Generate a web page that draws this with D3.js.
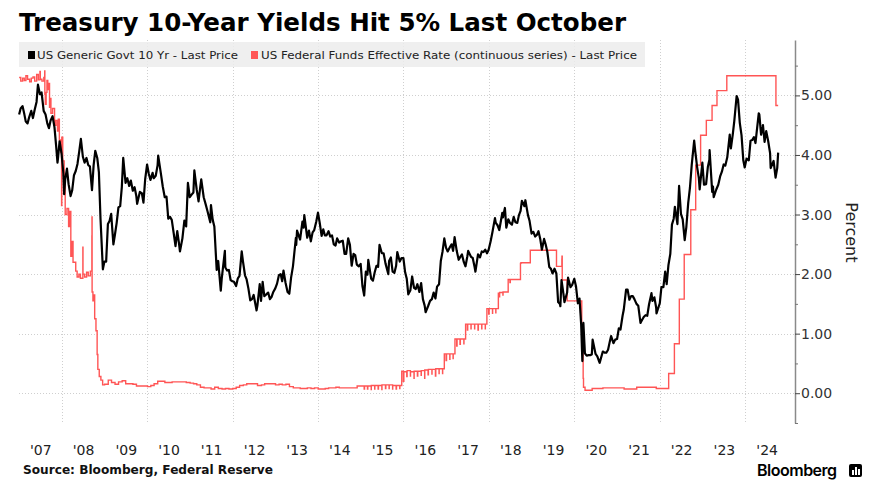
<!DOCTYPE html>
<html>
<head>
<meta charset="utf-8">
<script src="https://cdn.jsdelivr.net/npm/d3@7"></script>
<style>
  body { margin: 0; background: #fff; }
  svg { display: block; }
</style>
</head>
<body>
<div id="chart"></div>
<script>
// chart text
const title = "Treasury 10-Year Yields Hit 5% Last October";
const legendLabels = ["US Generic Govt 10 Yr - Last Price", "US Federal Funds Effective Rate (continuous series) - Last Price"];
const seriesColors = ["#000000", "#ff5555"];
const yearLabels = ["'07","'08","'09","'10","'11","'12","'13","'14","'15","'16","'17","'18","'19","'20","'21","'22","'23","'24"];
const gridYears = [2008, 2010, 2012, 2014, 2016, 2018, 2020, 2022, 2024];
const yTicks = [0, 1, 2, 3, 4, 5];
const yMinorTicks = [-0.5, 0.5, 1.5, 2.5, 3.5, 4.5, 5.5];

// US Generic Govt 10 Yr
const tenYear = [
  ["2007-01-02",4.68],["2007-01-15",4.78],["2007-01-31",4.82],["2007-02-15",4.69],["2007-02-28",4.56],
  ["2007-03-15",4.53],["2007-03-30",4.64],["2007-04-16",4.74],["2007-04-30",4.62],["2007-05-15",4.76],
  ["2007-05-31",4.89],["2007-06-12",5.18],["2007-06-29",5.02],["2007-07-13",5.05],["2007-07-31",4.74],
  ["2007-08-16",4.68],["2007-08-31",4.53],["2007-09-14",4.45],["2007-09-28",4.58],["2007-10-15",4.65],
  ["2007-10-31",4.47],["2007-11-15",4.14],["2007-11-26",3.87],["2007-11-30",3.94],["2007-12-14",4.23],
  ["2007-12-31",4.02],
  ["2008-01-15",3.70],["2008-01-22",3.34],["2008-01-31",3.59],["2008-02-15",3.77],["2008-02-29",3.51],
  ["2008-03-17",3.31],["2008-03-31",3.41],["2008-04-15",3.66],["2008-04-30",3.73],["2008-05-15",3.85],
  ["2008-05-30",4.06],["2008-06-13",4.27],["2008-06-30",3.97],["2008-07-15",3.87],["2008-07-31",3.95],
  ["2008-08-15",3.83],["2008-08-29",3.81],["2008-09-16",3.41],["2008-09-30",3.83],["2008-10-14",4.07],
  ["2008-10-31",3.95],["2008-11-14",3.71],["2008-11-28",2.92],["2008-12-18",2.08],["2008-12-31",2.21],
  ["2009-01-15",2.21],["2009-01-30",2.84],["2009-02-13",2.89],["2009-02-27",3.01],["2009-03-18",2.50],
  ["2009-03-31",2.66],["2009-04-15",2.86],["2009-04-30",3.12],["2009-05-15",3.14],["2009-05-29",3.46],
  ["2009-06-10",3.95],["2009-06-30",3.53],["2009-07-15",3.61],["2009-07-31",3.48],["2009-08-14",3.57],
  ["2009-08-31",3.40],["2009-09-15",3.46],["2009-09-30",3.31],["2009-10-07",3.18],["2009-10-30",3.38],
  ["2009-11-16",3.36],["2009-11-30",3.20],["2009-12-15",3.60],["2009-12-31",3.84],
  ["2010-01-15",3.68],["2010-01-29",3.58],["2010-02-16",3.70],["2010-02-26",3.61],["2010-03-15",3.65],
  ["2010-03-31",3.83],["2010-04-05",3.99],["2010-04-30",3.66],["2010-05-14",3.47],["2010-05-31",3.29],
  ["2010-06-15",3.30],["2010-06-30",2.93],["2010-07-15",2.96],["2010-07-30",2.91],["2010-08-16",2.68],
  ["2010-08-31",2.47],["2010-09-15",2.72],["2010-09-30",2.51],["2010-10-08",2.38],["2010-10-29",2.60],
  ["2010-11-15",2.90],["2010-11-30",2.80],["2010-12-15",3.53],["2010-12-31",3.29],
  ["2011-01-14",3.33],["2011-01-31",3.37],["2011-02-08",3.74],["2011-02-28",3.42],["2011-03-16",3.22],
  ["2011-03-31",3.47],["2011-04-08",3.59],["2011-04-29",3.29],["2011-05-16",3.17],["2011-05-31",3.06],
  ["2011-06-24",2.87],["2011-06-30",3.16],["2011-07-15",2.91],["2011-07-29",2.80],["2011-08-18",2.07],
  ["2011-08-31",2.22],["2011-09-22",1.72],["2011-09-30",1.92],["2011-10-27",2.39],["2011-10-31",2.11],
  ["2011-11-15",2.06],["2011-11-30",2.07],["2011-12-15",1.90],["2011-12-30",1.88],
  ["2012-01-13",1.87],["2012-01-31",1.80],["2012-02-15",1.93],["2012-02-29",1.97],["2012-03-19",2.38],
  ["2012-03-30",2.21],["2012-04-16",1.98],["2012-04-30",1.91],["2012-05-15",1.76],["2012-05-31",1.56],
  ["2012-06-15",1.58],["2012-06-29",1.65],["2012-07-24",1.39],["2012-07-31",1.47],["2012-08-20",1.83],
  ["2012-08-31",1.55],["2012-09-14",1.87],["2012-09-28",1.63],["2012-10-15",1.66],["2012-10-31",1.69],
  ["2012-11-15",1.58],["2012-11-30",1.62],["2012-12-14",1.70],["2012-12-31",1.76],
  ["2013-01-15",1.84],["2013-01-31",1.98],["2013-02-15",2.00],["2013-02-28",1.88],["2013-03-11",2.06],
  ["2013-03-29",1.85],["2013-04-15",1.70],["2013-04-30",1.67],["2013-05-15",1.94],["2013-05-31",2.13],
  ["2013-06-25",2.61],["2013-06-28",2.49],["2013-07-05",2.73],["2013-07-31",2.58],["2013-08-20",2.88],
  ["2013-08-30",2.78],["2013-09-05",2.99],["2013-09-30",2.61],["2013-10-15",2.73],["2013-10-31",2.55],
  ["2013-11-15",2.70],["2013-11-29",2.74],["2013-12-16",2.88],["2013-12-31",3.03],
  ["2014-01-15",2.86],["2014-01-31",2.64],["2014-02-14",2.75],["2014-02-28",2.65],["2014-03-14",2.65],
  ["2014-03-31",2.72],["2014-04-15",2.63],["2014-04-30",2.65],["2014-05-15",2.50],["2014-05-30",2.48],
  ["2014-06-13",2.60],["2014-06-30",2.53],["2014-07-15",2.55],["2014-07-31",2.56],["2014-08-15",2.34],
  ["2014-08-29",2.34],["2014-09-15",2.60],["2014-09-30",2.49],["2014-10-15",2.14],["2014-10-31",2.34],
  ["2014-11-14",2.32],["2014-11-28",2.16],["2014-12-15",2.13],["2014-12-31",2.17],
  ["2015-01-15",1.80],["2015-01-30",1.64],["2015-02-13",2.04],["2015-02-27",1.99],["2015-03-06",2.24],
  ["2015-03-31",1.92],["2015-04-15",1.89],["2015-04-30",2.03],["2015-05-15",2.14],["2015-05-29",2.12],
  ["2015-06-10",2.49],["2015-06-30",2.35],["2015-07-15",2.35],["2015-07-31",2.18],["2015-08-24",2.00],
  ["2015-08-31",2.22],["2015-09-15",2.28],["2015-09-30",2.04],["2015-10-15",2.02],["2015-10-30",2.14],
  ["2015-11-09",2.37],["2015-11-30",2.21],["2015-12-15",2.27],["2015-12-31",2.27],
  ["2016-01-15",2.03],["2016-01-29",1.92],["2016-02-11",1.66],["2016-02-29",1.73],["2016-03-15",1.96],
  ["2016-03-31",1.77],["2016-04-15",1.75],["2016-04-29",1.83],["2016-05-16",1.70],["2016-05-31",1.85],
  ["2016-06-15",1.58],["2016-06-30",1.47],["2016-07-08",1.36],["2016-07-29",1.46],["2016-08-15",1.55],
  ["2016-08-31",1.58],["2016-09-15",1.69],["2016-09-30",1.59],["2016-10-14",1.79],["2016-10-31",1.83],
  ["2016-11-15",2.22],["2016-11-30",2.38],["2016-12-15",2.60],["2016-12-30",2.44],
  ["2017-01-13",2.38],["2017-01-31",2.45],["2017-02-15",2.50],["2017-02-28",2.39],["2017-03-13",2.62],
  ["2017-03-31",2.39],["2017-04-17",2.24],["2017-04-28",2.28],["2017-05-15",2.33],["2017-05-31",2.20],
  ["2017-06-14",2.13],["2017-06-30",2.30],["2017-07-07",2.39],["2017-07-31",2.29],["2017-08-15",2.27],
  ["2017-08-31",2.12],["2017-09-07",2.04],["2017-09-29",2.33],["2017-10-16",2.28],["2017-10-31",2.38],
  ["2017-11-15",2.37],["2017-11-30",2.41],["2017-12-15",2.35],["2017-12-29",2.41],
  ["2018-01-15",2.55],["2018-01-31",2.71],["2018-02-21",2.94],["2018-02-28",2.86],["2018-03-15",2.82],
  ["2018-03-30",2.74],["2018-04-25",3.03],["2018-04-30",2.95],["2018-05-17",3.11],["2018-05-29",2.78],
  ["2018-06-15",2.92],["2018-06-29",2.86],["2018-07-16",2.83],["2018-07-31",2.96],["2018-08-15",2.87],
  ["2018-08-31",2.86],["2018-09-14",2.99],["2018-09-28",3.06],["2018-10-09",3.23],["2018-10-31",3.14],
  ["2018-11-08",3.24],["2018-11-30",2.99],["2018-12-14",2.89],["2018-12-31",2.68],
  ["2019-01-15",2.71],["2019-01-31",2.63],["2019-02-15",2.66],["2019-02-28",2.72],["2019-03-15",2.59],
  ["2019-03-29",2.41],["2019-04-17",2.59],["2019-04-30",2.50],["2019-05-15",2.37],["2019-05-31",2.12],
  ["2019-06-14",2.09],["2019-06-28",2.01],["2019-07-15",2.09],["2019-07-31",2.01],["2019-08-15",1.53],
  ["2019-08-30",1.50],["2019-09-03",1.46],["2019-09-13",1.90],["2019-09-30",1.66],["2019-10-08",1.53],
  ["2019-10-31",1.69],["2019-11-08",1.94],["2019-11-29",1.78],["2019-12-13",1.82],["2019-12-31",1.92],
  ["2020-01-15",1.79],["2020-01-31",1.51],["2020-02-14",1.59],["2020-02-28",1.15],["2020-03-09",0.54],
  ["2020-03-18",1.18],["2020-03-31",0.67],["2020-04-15",0.63],["2020-04-30",0.64],["2020-05-15",0.64],
  ["2020-05-29",0.65],["2020-06-05",0.90],["2020-06-30",0.66],["2020-07-15",0.62],["2020-07-31",0.53],
  ["2020-08-04",0.51],["2020-08-31",0.70],["2020-09-15",0.68],["2020-09-30",0.68],["2020-10-15",0.73],
  ["2020-10-30",0.87],["2020-11-10",0.96],["2020-11-30",0.84],["2020-12-15",0.90],["2020-12-31",0.91],
  ["2021-01-15",1.09],["2021-01-29",1.07],["2021-02-16",1.30],["2021-02-26",1.40],["2021-03-18",1.74],
  ["2021-03-31",1.74],["2021-04-15",1.57],["2021-04-30",1.63],["2021-05-14",1.63],["2021-05-28",1.58],
  ["2021-06-15",1.50],["2021-06-30",1.47],["2021-07-19",1.18],["2021-07-30",1.22],["2021-08-16",1.28],
  ["2021-08-31",1.31],["2021-09-15",1.30],["2021-09-30",1.49],["2021-10-21",1.68],["2021-10-29",1.55],
  ["2021-11-15",1.61],["2021-11-30",1.44],["2021-12-03",1.34],["2021-12-31",1.51],
  ["2022-01-14",1.78],["2022-01-31",1.78],["2022-02-15",2.04],["2022-02-28",1.83],["2022-03-15",2.15],
  ["2022-03-31",2.34],["2022-04-14",2.83],["2022-04-29",2.93],["2022-05-09",3.13],["2022-05-31",2.84],
  ["2022-06-14",3.48],["2022-06-30",3.01],["2022-07-15",2.92],["2022-08-01",2.57],["2022-08-15",2.79],
  ["2022-08-31",3.19],["2022-09-15",3.45],["2022-09-30",3.83],["2022-10-21",4.24],["2022-10-31",4.05],
  ["2022-11-15",3.80],["2022-11-30",3.61],["2022-12-07",3.42],["2022-12-30",3.87],
  ["2023-01-13",3.50],["2023-01-31",3.51],["2023-02-15",3.80],["2023-02-28",3.92],["2023-03-02",4.08],
  ["2023-03-24",3.38],["2023-03-31",3.47],["2023-04-06",3.29],["2023-04-28",3.42],["2023-05-15",3.50],
  ["2023-05-31",3.64],["2023-06-15",3.72],["2023-06-30",3.84],["2023-07-14",3.82],["2023-07-31",3.96],
  ["2023-08-21",4.34],["2023-08-31",4.11],["2023-09-15",4.33],["2023-09-29",4.57],["2023-10-19",4.99],
  ["2023-10-31",4.93],["2023-11-15",4.54],["2023-11-30",4.33],["2023-12-15",3.91],["2023-12-27",3.79],
  ["2024-01-12",3.94],["2024-01-31",3.91],["2024-02-15",4.24],["2024-02-29",4.25],["2024-03-15",4.30],
  ["2024-03-28",4.20],["2024-04-25",4.70],["2024-04-30",4.68],["2024-05-15",4.34],["2024-05-31",4.50],
  ["2024-06-14",4.22],["2024-06-28",4.40],["2024-07-15",4.23],["2024-07-31",4.03],["2024-08-05",3.78],
  ["2024-08-30",3.90],["2024-09-16",3.62],["2024-09-30",3.78],["2024-10-08",4.04]
];

// US Federal Funds Effective Rate, value holds until the next date
const fedFunds = [
  ["2007-01-02",5.30],["2007-01-16",5.24],["2007-02-01",5.29],["2007-02-15",5.25],["2007-03-01",5.33],
  ["2007-03-15",5.27],["2007-04-02",5.23],["2007-04-16",5.29],["2007-05-01",5.31],["2007-05-15",5.24],
  ["2007-06-01",5.35],["2007-06-15",5.26],["2007-06-29",5.40],["2007-07-02",5.27],["2007-07-16",5.24],
  ["2007-08-01",5.30],["2007-08-09",5.41],["2007-08-10",5.02],["2007-08-14",4.85],["2007-08-21",5.05],
  ["2007-08-28",5.25],["2007-09-04",5.10],["2007-09-10",5.20],["2007-09-19",4.80],["2007-09-28",4.95],
  ["2007-10-01",4.70],["2007-10-15",4.78],["2007-11-01",4.50],["2007-11-13",4.58],["2007-11-26",4.40],
  ["2007-12-03",4.60],["2007-12-12",4.25],["2007-12-24",4.05],["2007-12-31",3.15],
  ["2008-01-02",4.30],["2008-01-10",3.90],["2008-01-22",3.55],["2008-01-31",3.00],["2008-02-15",3.10],
  ["2008-02-29",2.80],["2008-03-10",3.05],["2008-03-19",2.30],["2008-03-31",2.55],["2008-04-07",2.20],
  ["2008-04-30",2.05],["2008-05-12",1.95],["2008-05-27",2.00],["2008-06-09",1.93],["2008-06-30",2.45],
  ["2008-07-01",2.00],["2008-07-15",1.95],["2008-08-01",2.03],["2008-08-15",1.97],["2008-09-02",2.05],
  ["2008-09-15",2.64],["2008-09-16",2.96],["2008-09-17",1.70],["2008-09-24",1.55],["2008-10-01",1.65],
  ["2008-10-09",1.25],["2008-10-20",1.05],["2008-10-30",0.65],["2008-11-05",0.40],["2008-11-17",0.28],
  ["2008-12-01",0.22],["2008-12-16",0.14],
  ["2009-01-02",0.15],["2009-02-02",0.22],["2009-03-02",0.18],["2009-04-01",0.15],["2009-05-01",0.19],
  ["2009-06-01",0.21],["2009-07-01",0.16],["2009-08-03",0.16],["2009-09-01",0.15],["2009-10-01",0.12],
  ["2009-11-02",0.12],["2009-12-01",0.12],
  ["2010-01-04",0.11],["2010-02-01",0.13],["2010-03-01",0.16],["2010-04-01",0.20],["2010-05-03",0.20],
  ["2010-06-01",0.18],["2010-07-01",0.18],["2010-08-02",0.19],["2010-09-01",0.19],["2010-10-01",0.19],
  ["2010-11-01",0.19],["2010-12-01",0.18],
  ["2011-01-03",0.17],["2011-02-01",0.16],["2011-03-01",0.14],["2011-04-01",0.10],["2011-05-02",0.09],
  ["2011-06-01",0.09],["2011-07-01",0.07],["2011-08-01",0.10],["2011-09-01",0.08],["2011-10-03",0.07],
  ["2011-11-01",0.08],["2011-12-01",0.07],
  ["2012-01-03",0.08],["2012-02-01",0.10],["2012-03-01",0.13],["2012-04-02",0.14],["2012-05-01",0.16],
  ["2012-06-01",0.16],["2012-07-02",0.16],["2012-08-01",0.13],["2012-09-04",0.14],["2012-10-01",0.16],
  ["2012-11-01",0.16],["2012-12-03",0.16],
  ["2013-01-02",0.14],["2013-02-01",0.15],["2013-03-01",0.14],["2013-04-01",0.15],["2013-05-01",0.11],
  ["2013-06-03",0.09],["2013-07-01",0.09],["2013-08-01",0.08],["2013-09-03",0.08],["2013-10-01",0.09],
  ["2013-11-01",0.08],["2013-12-02",0.09],
  ["2014-01-02",0.07],["2014-02-03",0.07],["2014-03-03",0.08],["2014-04-01",0.09],["2014-05-01",0.09],
  ["2014-06-02",0.10],["2014-07-01",0.09],["2014-08-01",0.09],["2014-09-02",0.09],["2014-10-01",0.09],
  ["2014-11-03",0.09],["2014-12-01",0.12],
  ["2015-01-02",0.12],["2015-01-30",0.07],["2015-02-02",0.12],["2015-02-27",0.07],["2015-03-02",0.12],
  ["2015-03-31",0.06],["2015-04-01",0.13],["2015-04-30",0.07],["2015-05-01",0.13],["2015-05-29",0.07],
  ["2015-06-01",0.13],["2015-06-30",0.06],["2015-07-01",0.14],["2015-07-31",0.08],["2015-08-03",0.14],
  ["2015-08-31",0.08],["2015-09-01",0.14],["2015-09-30",0.07],["2015-10-01",0.13],["2015-10-30",0.07],
  ["2015-11-02",0.13],["2015-11-30",0.08],["2015-12-01",0.13],["2015-12-17",0.37],["2015-12-31",0.20],
  ["2016-01-04",0.36],["2016-01-29",0.28],["2016-02-01",0.38],["2016-02-29",0.29],["2016-03-01",0.36],
  ["2016-03-31",0.25],["2016-04-01",0.37],["2016-04-29",0.29],["2016-05-02",0.37],["2016-05-31",0.30],
  ["2016-06-01",0.38],["2016-06-30",0.25],["2016-07-01",0.39],["2016-07-29",0.31],["2016-08-01",0.40],
  ["2016-08-31",0.32],["2016-09-01",0.40],["2016-09-30",0.29],["2016-10-03",0.41],["2016-10-31",0.33],
  ["2016-11-01",0.41],["2016-11-30",0.33],["2016-12-01",0.41],["2016-12-15",0.66],["2016-12-30",0.55],
  ["2017-01-03",0.66],["2017-01-31",0.57],["2017-02-01",0.66],["2017-02-28",0.58],["2017-03-01",0.66],
  ["2017-03-16",0.91],["2017-03-31",0.79],["2017-04-03",0.91],["2017-04-28",0.82],["2017-05-01",0.91],
  ["2017-05-31",0.83],["2017-06-01",0.91],["2017-06-15",1.16],["2017-06-30",1.06],["2017-07-03",1.16],
  ["2017-07-31",1.08],["2017-08-01",1.16],["2017-08-31",1.08],["2017-09-01",1.16],["2017-09-29",1.06],
  ["2017-10-02",1.16],["2017-10-31",1.08],["2017-11-01",1.16],["2017-11-30",1.08],["2017-12-01",1.16],
  ["2017-12-14",1.42],["2017-12-29",1.33],
  ["2018-01-02",1.42],["2018-01-31",1.34],["2018-02-01",1.42],["2018-02-28",1.35],["2018-03-01",1.42],
  ["2018-03-22",1.68],["2018-03-29",1.62],["2018-04-02",1.69],["2018-04-30",1.65],["2018-05-01",1.70],
  ["2018-06-14",1.91],["2018-06-29",1.86],["2018-07-02",1.91],["2018-09-27",2.18],["2018-10-01",2.19],
  ["2018-12-20",2.40],
  ["2019-01-02",2.40],["2019-08-01",2.13],["2019-09-16",2.25],["2019-09-17",2.30],["2019-09-19",1.90],
  ["2019-10-31",1.55],
  ["2020-03-04",1.10],["2020-03-16",0.25],["2020-03-19",0.10],["2020-04-01",0.05],["2020-06-01",0.08],
  ["2020-09-01",0.09],["2020-12-01",0.09],
  ["2021-03-01",0.07],["2021-06-17",0.10],["2021-12-01",0.08],
  ["2022-03-17",0.33],["2022-05-05",0.83],["2022-06-16",1.58],["2022-07-28",2.33],["2022-09-22",3.08],
  ["2022-11-03",3.83],["2022-12-15",4.33],
  ["2023-02-02",4.58],["2023-03-23",4.83],["2023-05-04",5.08],["2023-07-27",5.33],
  ["2024-09-19",4.83],["2024-10-08",4.83]
];

const width = 870;
const height = 492;
const parse = d3.timeParse("%Y-%m-%d");

const x = d3.scaleTime()
  .domain([new Date(2007, 0, 1), new Date(2025, 2, 1)])
  .range([19, 795]);

const y = d3.scaleLinear()
  .domain([-0.5, 5.93])
  .range([423, 40]);

const svg = d3.select("#chart")
  .append("svg")
  .attr("width", width)
  .attr("height", height);

// title
svg.append("text")
  .attr("x", 19)
  .attr("y", 31)
  .attr("font-family", "DejaVu Sans")
  .attr("font-weight", "bold")
  .attr("font-size", 24)
  .attr("fill", "#000")
  .attr("textLength", 607)
  .attr("lengthAdjust", "spacingAndGlyphs")
  .text(title);

// grid
const grid = svg.append("g")
  .attr("stroke", "#cfcfcf")
  .attr("stroke-width", 1)
  .attr("stroke-dasharray", "1,2");

grid.selectAll("line.h")
  .data(yTicks)
  .enter()
  .append("line")
  .attr("class", "h")
  .attr("x1", 19)
  .attr("x2", 795)
  .attr("y1", (d) => Math.round(y(d)) + 0.5)
  .attr("y2", (d) => Math.round(y(d)) + 0.5);

grid.selectAll("line.v")
  .data(gridYears)
  .enter()
  .append("line")
  .attr("class", "v")
  .attr("x1", (d) => Math.round(x(new Date(d, 0, 1))) + 0.5)
  .attr("x2", (d) => Math.round(x(new Date(d, 0, 1))) + 0.5)
  .attr("y1", 40)
  .attr("y2", 423);

// legend box
const legend = svg.append("g");
legend.append("rect")
  .attr("x", 19)
  .attr("y", 42)
  .attr("width", 626)
  .attr("height", 25)
  .attr("fill", "#ececec")
  .attr("fill-opacity", 0.85);

const legendPos = [{ sq: 28, tx: 37, w: 201 }, { sq: 251, tx: 261, w: 376 }];
legendLabels.forEach((label, i) => {
  legend.append("rect")
    .attr("x", legendPos[i].sq)
    .attr("y", 51)
    .attr("width", 7)
    .attr("height", 8)
    .attr("fill", seriesColors[i]);
  legend.append("text")
    .attr("x", legendPos[i].tx)
    .attr("y", 59)
    .attr("font-family", "DejaVu Sans")
    .attr("font-size", 11)
    .attr("fill", "#222")
    .attr("textLength", legendPos[i].w)
    .attr("lengthAdjust", "spacingAndGlyphs")
    .text(label);
});

// lines
const line = d3.line()
  .x((d) => x(parse(d[0])))
  .y((d) => y(d[1]));

svg.append("path")
  .datum(fedFunds)
  .attr("fill", "none")
  .attr("stroke", seriesColors[1])
  .attr("stroke-width", 1.4)
  .attr("d", line.curve(d3.curveStepAfter));

svg.append("path")
  .datum(tenYear)
  .attr("fill", "none")
  .attr("stroke", seriesColors[0])
  .attr("stroke-width", 2.2)
  .attr("stroke-linejoin", "round")
  .attr("d", line.curve(d3.curveLinear));

// y axis on the right
const yAxis = svg.append("g")
  .attr("transform", "translate(795,0)")
  .call(d3.axisRight(y).tickValues(yTicks).tickFormat(d3.format(".2f")).tickSize(5).tickSizeOuter(0).tickPadding(1));

yAxis.select(".domain").attr("stroke", "#8a8a8a").attr("stroke-width", 1.5);
yAxis.selectAll(".tick line").attr("stroke", "#444");
yAxis.selectAll(".tick text")
  .attr("font-family", "DejaVu Sans")
  .attr("font-size", 14)
  .attr("fill", "#333");

const yMinor = svg.append("g")
  .attr("transform", "translate(795,0)")
  .call(d3.axisRight(y).tickValues(yMinorTicks).tickFormat("").tickSize(3).tickSizeOuter(0));
yMinor.select(".domain").remove();
yMinor.selectAll(".tick line").attr("stroke", "#777");

svg.append("text")
  .attr("transform", "translate(846," + y(2.7) + ") rotate(90)")
  .attr("text-anchor", "middle")
  .attr("font-family", "DejaVu Sans")
  .attr("font-size", 16)
  .attr("fill", "#222")
  .text("Percent");

// year labels centred in each year
const xAxis = svg.append("g")
  .attr("transform", "translate(0,442)")
  .call(d3.axisBottom(x)
    .tickValues(yearLabels.map((d, i) => new Date(2007 + i, 6, 2)))
    .tickFormat((d, i) => yearLabels[i])
    .tickSize(0)
    .tickPadding(3));
xAxis.select(".domain").remove();
xAxis.selectAll(".tick text")
  .attr("font-family", "DejaVu Sans")
  .attr("font-size", 14)
  .attr("fill", "#222");

// footer
svg.append("text")
  .attr("x", 23)
  .attr("y", 474)
  .attr("font-family", "DejaVu Sans")
  .attr("font-weight", "bold")
  .attr("font-size", 12)
  .attr("fill", "#111")
  .attr("textLength", 250)
  .attr("lengthAdjust", "spacingAndGlyphs")
  .text("Source: Bloomberg, Federal Reserve");

svg.append("text")
  .attr("x", 757)
  .attr("y", 476)
  .attr("font-family", "Inter")
  .attr("font-weight", 600)
  .attr("font-size", 16)
  .attr("letter-spacing", -0.5)
  .attr("fill", "#000")
  .text("Bloomberg");

const logo = svg.append("g").attr("transform", "translate(849,464)");
logo.append("rect").attr("width", 13).attr("height", 13).attr("rx", 2).attr("fill", "#000");
[[3, 6, 2, 5], [6, 3, 2, 8], [9, 5, 2, 6]].forEach((b) => {
  logo.append("rect").attr("x", b[0]).attr("y", b[1]).attr("width", b[2]).attr("height", b[3]).attr("fill", "#fff");
});
</script>
</body>
</html>
